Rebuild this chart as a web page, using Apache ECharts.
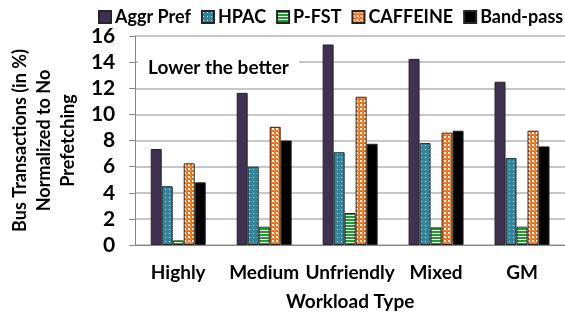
<!DOCTYPE html>
<html><head><meta charset="utf-8">
<script src="https://cdn.jsdelivr.net/npm/echarts@6/dist/echarts.min.js"></script>
<style>html,body{margin:0;padding:0;background:#fff}#c{width:565px;height:316px}</style>
</head><body><div id="c"></div>
<script>
var categories = ['Highly', 'Medium', 'Unfriendly', 'Mixed', 'GM'];
var aggrPref = [7.35, 11.65, 15.35, 14.25, 12.5];
var hpac = [4.5, 6.0, 7.1, 7.8, 6.65];
var pfst = [0.35, 1.4, 2.45, 1.35, 1.4];
var caffeine = [6.25, 9.05, 11.35, 8.6, 8.75];
var bandpass = [4.8, 8.0, 7.75, 8.75, 7.55];
var yTicks = [0, 2, 4, 6, 8, 10, 12, 14, 16];

function pat(w, h, draw) {
  var c = document.createElement('canvas'); c.width = w; c.height = h;
  var g = c.getContext('2d'); draw(g); return { image: c, repeat: 'repeat' };
}
var hpacPat = pat(4, 4, function (g) { g.fillStyle = '#31859c'; g.fillRect(0, 0, 4, 4); g.fillStyle = 'rgba(255,255,255,0.8)'; g.fillRect(1, 1, 1, 1); });
var pfstPat = pat(4, 3, function (g) { g.fillStyle = '#ffffff'; g.fillRect(0, 0, 4, 3); g.fillStyle = '#1f9e2e'; g.fillRect(0, 0, 4, 2); });
var cafPat = pat(4, 4, function (g) { g.fillStyle = '#ff6a0f'; g.fillRect(0, 0, 4, 4); g.fillStyle = '#ffffff'; g.fillRect(0, 0, 2, 2); g.fillRect(2, 2, 1, 1); });

var font = 'Lato, "Open Sans", sans-serif';
function mk(name, data, color) {
  return { name: name, type: 'bar', data: data, barWidth: 11, barGap: '0%',
    itemStyle: { color: color, borderColor: '#262626', borderWidth: 1 } };
}
var chart = echarts.init(document.getElementById('c'));
chart.setOption({
  animation: false,
  textStyle: { fontFamily: font },
  legend: { left: 93, top: 3, width: 600, icon: 'rect', itemWidth: 12, itemHeight: 12, itemGap: 10,
    textStyle: { fontFamily: font, fontWeight: 'bold', fontSize: 18, color: '#000', padding: [0, 0, 0, -1] } },
  grid: { left: 124, top: 36, width: 446, height: 216 },
  xAxis: { type: 'category', data: categories,
    axisLine: { lineStyle: { color: '#868686', width: 1 } }, axisTick: { show: false },
    axisLabel: { interval: 0, fontFamily: font, fontWeight: 'bold', fontSize: 19, color: '#000', margin: 18 },
    name: 'Workload Type', nameLocation: 'middle', nameGap: 47,
    nameTextStyle: { fontFamily: font, fontWeight: 'bold', fontSize: 19, color: '#000' } },
  yAxis: { type: 'value', min: yTicks[0], max: yTicks[yTicks.length - 1], interval: 2,
    axisLine: { show: true, lineStyle: { color: '#868686' } },
    axisTick: { show: true, length: 6, lineStyle: { color: '#868686' } },
    splitLine: { lineStyle: { color: '#b4b4b4', width: 1.5 } },
    axisLabel: { fontFamily: font, fontWeight: 'bold', fontSize: 21, color: '#000', margin: 20 },
    name: 'Bus Transactions (in %)\nNormalized to No\nPrefetching', nameLocation: 'middle', nameGap: 34,
    nameTextStyle: { fontFamily: font, fontWeight: 'bold', fontSize: 18, color: '#000', lineHeight: 24, align: 'center' } },
  graphic: [{ type: 'text', left: 138, top: 56, z: 10,
    style: { text: 'Lower the better', font: 'bold 19px ' + font, fill: '#000', backgroundColor: '#fff', padding: [2, 10] } }],
  series: [
    mk('Aggr Pref', aggrPref, '#403152'),
    mk('HPAC', hpac, hpacPat),
    mk('P-FST', pfst, pfstPat),
    mk('CAFFEINE', caffeine, cafPat),
    mk('Band-pass', bandpass, '#000000')
  ]
});
</script></body></html>
